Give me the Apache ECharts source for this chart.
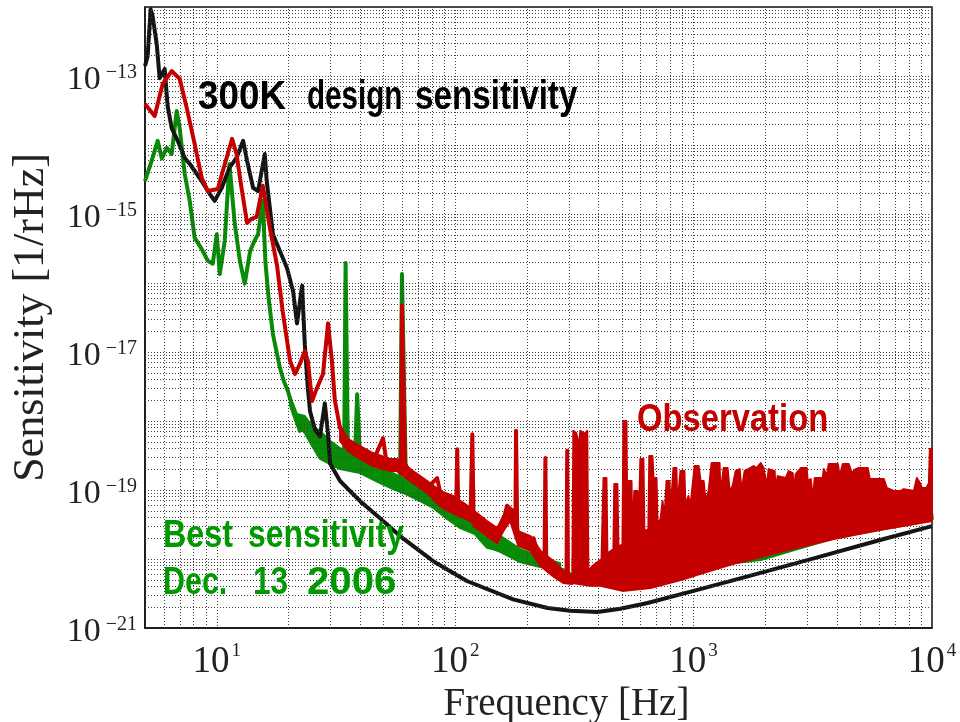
<!DOCTYPE html>
<html><head><meta charset="utf-8">
<script src="https://cdn.jsdelivr.net/npm/echarts@6/dist/echarts.min.js"></script>
<style>html,body{margin:0;padding:0;background:#fff}#c{width:960px;height:722px}</style>
</head><body><div id="c"></div>
<script>
// ---- data (frequency [Hz], sensitivity [1/rHz]) ----
const xDecades = [1, 10, 100, 1000];
const yDecades = [1e-21, 1e-20, 1e-19, 1e-18, 1e-17, 1e-16, 1e-15, 1e-14, 1e-13];
const minorMultipliers = [2, 3, 4, 5, 6, 7, 8, 9];
const yLabelExponents = [-21, -19, -17, -15, -13];

const design300K = [[5.0,1.40e-13],[5.13,1.95e-13],[5.28,9.3e-13],[5.38,7.4e-13],[5.60,2.9e-13],[5.76,9.3e-14],[6.05,1.26e-13],[6.22,3.7e-14],[6.47,1.76e-14],[6.86,1.15e-14],[7.34,6.5e-15],[7.71,5.3e-15],[8.25,3.8e-15],[8.65,3.0e-15],[9.35,1.95e-15],[9.8,1.55e-15],[10.5,2.4e-15],[11.3,4.7e-15],[12.1,6.5e-15],[12.9,1.15e-14],[13.4,5.9e-15],[14.2,2.4e-15],[14.9,2.15e-15],[15.9,7.4e-15],[16.2,3.0e-15],[17.2,5.1e-16],[18.4,2.9e-16],[19.7,1.65e-16],[20.9,7.6e-17],[21.7,2.6e-17],[22.8,9.1e-17],[23.4,1.3e-17],[24.1,3.0e-18],[24.6,1.4e-18],[25.8,7.6e-19],[27.1,6.0e-19],[28.4,1.8e-18],[29.3,6.4e-19],[29.9,2.4e-19],[32.9,1.35e-19],[39.9,6.9e-20],[48.4,3.9e-20],[58.7,2.15e-20],[80.9,9.3e-21],[112,4.8e-21],[175,2.6e-21],[244,1.95e-21],[304,1.78e-21],[395,1.7e-21],[493,1.9e-21],[641,2.3e-21],[1000,3.45e-21],[1687,5.6e-21],[3192,1.02e-20],[6110,1.9e-20],[10000,3.0e-20]];

const bestSensitivity = [[5.0,3.0e-15],[5.33,5.9e-15],[5.65,1.15e-14],[5.88,6.4e-15],[6.17,9.1e-15],[6.47,7.4e-15],[6.79,3.1e-14],[6.99,1.77e-14],[7.34,3.8e-15],[7.70,1.55e-15],[8.08,4.5e-16],[8.65,3.1e-16],[9.17,2.1e-16],[9.62,1.9e-16],[10.0,5.1e-16],[10.3,1.35e-16],[10.8,4.1e-16],[11.3,5.3e-15],[11.9,7.2e-16],[12.5,2.1e-16],[13.1,9.8e-17],[13.8,2.9e-16],[14.4,4.1e-16],[14.9,5.1e-16],[15.6,1.55e-15],[16.0,2.0e-16],[16.5,6.0e-17],[17.2,1.82e-17],[17.9,9.3e-18],[18.4,5.9e-18],[19.1,3.8e-18],[19.9,2.7e-18],[20.7,1.65e-18],[21.7,1.0e-18],[22.3,7.2e-19],[23.0,1.07e-18],[23.9,7.9e-19],[25.1,4.8e-19],[25.6,7.9e-19],[26.6,3.3e-19],[27.9,6.0e-19],[29.3,4.1e-19],[30.7,2.6e-19],[32.9,3.1e-19],[34.2,2.8e-19],[34.7,1.95e-16],[35.1,1.95e-16],[35.5,3.1e-19],[38.0,3.1e-19],[38.8,2.45e-18],[39.3,2.45e-18],[39.9,2.95e-19],[43.9,2.08e-19],[48.4,1.73e-19],[54.3,1.44e-19],[58.7,1.26e-19],[59.8,1.35e-16],[60.4,1.35e-16],[62.2,1.14e-19],[71.3,8.2e-20],[80.8,6.2e-20],[92.5,4.5e-20],[105,3.3e-20],[121,2.4e-20],[136,1.55e-20],[155,1.31e-20],[187,9.35e-21],[228,7.9e-21],[258,7.6e-21],[290,6.7e-21],[319,5.3e-21],[335,5.6e-21],[345,1.55e-20],[350,1.55e-20],[358,5.6e-21],[387,4.5e-21],[503,3.7e-21],[575,4.1e-21],[580,9.1e-20],[585,9.1e-20],[594,4.1e-21],[907,5.5e-21],[1472,9.0e-21],[1911,1.0e-20],[2556,1.35e-20],[3872,2.05e-20],[6279,2.8e-20],[9518,3.6e-20],[9600,1.1e-19],[9700,1.1e-19],[10000,3.7e-20]];
// thickness of the noisy best-sensitivity trace (upper / lower edge)
const bestNoiseTop = [[20.3,2.3e-18],[21.7,1.26e-18],[23.4,1.18e-18],[25.1,8.5e-19],[27.1,7.2e-19],[29.9,5.13e-19],[32.9,4.05e-19],[36.2,3.67e-19],[39.9,3.43e-19],[43.9,2.63e-19],[48.4,2.22e-19],[54.9,1.76e-19],[61.6,1.44e-19],[71.3,1.14e-19],[80.9,8.8e-20],[92.5,6.9e-20],[105,5.3e-20],[121,3.8e-20],[136,2.8e-20],[155,2.15e-20],[187,1.40e-20],[228,1.07e-20],[276,8.7e-21]];
const bestNoiseBottom = [[20.3,1.65e-18],[21.7,8.5e-19],[23.4,6.7e-19],[25.1,4.34e-19],[27.1,2.82e-19],[29.9,2.38e-19],[32.9,2.01e-19],[36.2,1.88e-19],[39.9,1.76e-19],[43.9,1.49e-19],[48.4,1.26e-19],[54.9,1.03e-19],[61.6,8.8e-20],[71.3,6.9e-20],[80.9,5.5e-20],[92.5,3.8e-20],[105,2.8e-20],[121,2.3e-20],[136,1.45e-20],[155,1.31e-20],[187,9.35e-21],[228,7.9e-21],[276,7.2e-21]];

const observationLow = [[5.0,3.93e-14],[5.49,2.63e-14],[5.93,7.66e-14],[6.47,1.18e-13],[6.99,9.1e-14],[7.48,3.45e-14],[8.08,1.03e-14],[8.65,3.3e-15],[9.17,2.15e-15],[10.1,2.3e-15],[10.6,4.2e-15],[11.6,1.23e-14],[12.1,7.4e-15],[12.7,2.4e-15],[13.4,7.4e-16],[14.0,8.5e-16],[14.7,9.1e-16],[15.6,2.57e-15],[16.7,6.3e-16],[17.9,1.78e-16],[18.9,3.9e-17],[20.3,7.4e-18],[21.3,4.8e-18],[22.3,6.7e-18],[23.4,1.03e-17],[24.1,7.4e-18],[25.1,1.95e-18],[26.3,3.0e-18],[27.9,4.8e-18],[29.3,2.6e-17],[30.4,7.4e-18],[31.3,1.95e-18],[32.9,7.9e-19],[35.5,4.7e-19],[39.9,3.7e-19],[45.2,2.6e-19],[49.8,5.6e-19],[51.8,2.24e-19],[57.0,2.4e-19],[59.3,2.6e-19],[59.8,4.7e-17],[60.4,4.7e-17],[61.6,2.4e-19],[66.6,1.48e-19],[76.3,1.07e-19],[84.0,1.49e-19],[88.1,6.9e-20],[95.3,5.9e-20],[101,5.5e-20],[102,3.9e-19],[103,5.0e-20],[105,4.5e-20],[116,3.9e-20],[118,6.4e-19],[119.5,3.5e-20],[121,3.0e-20],[136,2.3e-20],[150,1.82e-20],[159,3.5e-20],[165,5.9e-20],[174,5.0e-20],[179,4.0e-20],[180,7.2e-19],[182,3.0e-20],[184,1.82e-20],[207,1.45e-20],[213,2.0e-20],[228,9.3e-21],[237,9.0e-21],[239,2.9e-19],[241,8.5e-21],[246,7.9e-21],[263,5.6e-21],[284,4.8e-21],[293,5.0e-21],[295,3.7e-19],[297,5.0e-21],[304,4.8e-21],[310,4.5e-21]];
// thickness of the noisy observation trace below 310 Hz (upper / lower edge)
const observationNoiseTop = [[32.9,8.5e-19],[35.5,5.5e-19],[39.9,4.34e-19],[45.2,3.43e-19],[53.3,2.82e-19],[57.0,2.82e-19],[66.6,1.88e-19],[76.3,1.35e-19],[86.5,9.7e-20],[98.0,8.2e-20],[116,5.5e-20],[136,3.55e-20],[150,2.8e-20],[159,4.2e-20],[170,5.5e-20],[184,2.53e-20],[207,2.15e-20],[228,1.31e-20],[258,9.35e-21],[284,6.7e-21],[310,5.6e-21]];
const observationNoiseBottom = [[32.9,5.13e-19],[35.5,3.67e-19],[39.9,2.82e-19],[45.2,2.22e-19],[53.3,1.88e-19],[57.0,1.88e-19],[66.6,1.26e-19],[76.3,9.1e-20],[86.5,5.8e-20],[98.0,4.6e-20],[116,3.55e-20],[136,2.15e-20],[150,1.7e-20],[159,2.53e-20],[170,3.55e-20],[184,1.55e-20],[207,1.31e-20],[228,7.9e-21],[258,5.6e-21],[284,4.5e-21],[310,4.35e-21]];

// upper (ragged) edge of the dense observation band above 310 Hz, left to right
const observationBandTop = [[313,7.2e-19],[322,6.7e-19],[329,4.3e-19],[335,7.2e-19],[348,6.5e-19],[358,7.2e-19],[362,6.7e-21],[376,7.9e-21],[411,1.0e-20],[419,1.49e-19],[431,1.49e-19],[435,1.19e-20],[461,1.4e-20],[465,1.22e-19],[479,1.22e-19],[484,1.49e-20],[503,1.65e-20],[508,1.0e-18],[523,1.0e-18],[528,1.82e-20],[533,1.35e-19],[549,1.35e-19],[554,2.0e-20],[564,9.7e-20],[581,9.7e-20],[587,2.3e-20],[598,2.82e-19],[616,2.82e-19],[622,2.53e-20],[646,2.7e-20],[652,3.11e-19],[672,3.11e-19],[679,1.49e-19],[699,1.49e-19],[706,3.3e-20],[727,3.8e-20],[741,6.9e-20],[755,3.8e-20],[770,1.35e-19],[792,1.35e-19],[800,4.6e-20],[823,2.08e-19],[847,2.08e-19],[855,5.8e-20],[881,1.88e-19],[915,1.88e-19],[924,5.8e-20],[951,8.2e-20],[970,5.8e-20],[1010,2.22e-19],[1050,2.22e-19],[1070,1.35e-19],[1102,1.35e-19],[1123,6.9e-20],[1156,9.7e-20],[1190,2.46e-19],[1285,2.46e-19],[1298,8.2e-20],[1336,2.08e-19],[1389,2.08e-19],[1416,9.7e-20],[1458,1.14e-19],[1501,1.88e-19],[1560,2.01e-19],[1590,9.7e-20],[1637,1.88e-19],[1786,2.22e-19],[1839,2.08e-19],[1911,2.46e-19],[1967,2.08e-19],[2025,1.14e-19],[2065,2.01e-19],[2188,1.88e-19],[2209,9.7e-20],[2252,1.59e-19],[2434,1.49e-19],[2505,1.88e-19],[2605,1.76e-19],[2630,9.7e-20],[2681,1.7e-19],[2815,2.08e-19],[2982,2.08e-19],[3011,1.35e-19],[3101,1.44e-19],[3161,7.4e-20],[3222,1.49e-19],[3481,1.49e-19],[3515,2.01e-19],[3619,1.59e-19],[3689,2.38e-19],[4025,2.38e-19],[4103,1.59e-19],[4224,2.38e-19],[4476,2.38e-19],[4608,1.76e-19],[4790,2.01e-19],[4931,2.08e-19],[5379,2.08e-19],[5483,1.44e-19],[6279,1.44e-19],[6464,1.07e-19],[6917,9.7e-20],[7401,9.7e-20],[7619,1.03e-19],[8393,9.7e-20],[8640,1.49e-19],[8894,1.26e-19],[9068,1.07e-19],[9518,1.07e-19],[9702,1.26e-19],[9795,3.93e-19],[10000,3.93e-19]];
// lower edge of the dense observation band, left to right
const observationBandBottom = [[310,4.5e-21],[369,4.1e-21],[406,4.1e-21],[503,3.45e-21],[659,3.8e-21],[907,5.1e-21],[1070,6.1e-21],[1472,8.5e-21],[1912,1.07e-20],[2388,1.31e-20],[3041,1.6e-20],[3873,1.95e-20],[4934,2.3e-20],[6283,2.7e-20],[8000,3.1e-20],[10000,3.55e-20]];

// ECharts rounds axis extents to 20 decimals, so the y axis is plotted in units of 1e-21 /rHz
const Y_UNIT_EXP = -21;
const toPlot = arr => arr.map(p => [p[0], p[1] * Math.pow(10, -Y_UNIT_EXP)]);

// ---- styles ----
const RED = '#c40000', GREEN = '#088c08', BLACK = '#141414', TEXT_GREEN = '#009a00';
const gridStyle = { color: '#404040', width: 1, type: [1, 2] };

const minorX = [];
xDecades.forEach(d => minorMultipliers.forEach(m => { const v = m * d; if (v > 5 && v < 10000) minorX.push(v); }));
const minorY = [];
yDecades.forEach(d => minorMultipliers.forEach(m => minorY.push(m * d * Math.pow(10, -Y_UNIT_EXP))));

function powerOfTen(v) {
  const l = Math.log10(v), e = Math.round(l);
  return Math.abs(l - e) < 1e-6 ? e : null;
}
const richX = {
  b: { fontFamily: 'Liberation Serif', fontSize: 37, lineHeight: 40, color: '#222' },
  s: { fontFamily: 'Liberation Serif', fontSize: 19, lineHeight: 21, verticalAlign: 'top', color: '#222', padding: [0, 0, 0, 2] }
};
const richY = {
  b: { fontFamily: 'Liberation Serif', fontSize: 34, lineHeight: 36, color: '#222' },
  s: { fontFamily: 'Liberation Serif', fontSize: 20, lineHeight: 21, verticalAlign: 'top', color: '#222', padding: [0, 0, 0, 5] }
};
const sup = e => String(e).replace('-', '\u2212');

function bandSeries(name, top, bottom, color, z) {
  const t = toPlot(top), b = toPlot(bottom);
  return {
    name: name, type: 'custom', coordinateSystem: 'cartesian2d', z: z, silent: true,
    data: [b[0]],
    renderItem: function (params, api) {
      const pts = [];
      t.forEach(p => pts.push(api.coord(p)));
      for (let i = b.length - 1; i >= 0; i--) pts.push(api.coord(b[i]));
      return { type: 'polygon', shape: { points: pts }, style: { fill: color, stroke: color, lineWidth: 2, lineJoin: 'round' } };
    }
  };
}

const chart = echarts.init(document.getElementById('c'), null, { renderer: 'canvas' });
const txt = (text, x, y, sx, size, color) => ({
  type: 'text', x: x, y: y, scaleX: sx, z: 100,
  style: { text: text, font: 'bold ' + size + 'px "Liberation Sans", Arial, sans-serif', fill: color,
    textAlign: 'left', align: 'left', textVerticalAlign: 'middle', verticalAlign: 'middle' }
});

chart.setOption({
  animation: false,
  backgroundColor: '#fff',
  grid: { left: 145, right: 28, top: 7, bottom: 94, show: true, borderColor: '#111', borderWidth: 1.5,
    containLabel: false, outerBoundsMode: 'none' },
  xAxis: {
    type: 'log', logBase: 10, min: 5, max: 10000, splitNumber: 5,
    axisLine: { show: true, onZero: false, lineStyle: { color: '#111', width: 1.5 } },
    axisTick: { show: false },
    splitLine: { show: true, lineStyle: gridStyle },
    axisLabel: {
      margin: 14, rich: richX,
      formatter: v => { const e = powerOfTen(v); return e === null ? '' : '{b|10}{s|' + sup(e) + '}'; }
    },
    name: 'Frequency [Hz]', nameLocation: 'middle', nameGap: 50,
    nameTextStyle: { fontFamily: 'Liberation Serif', fontSize: 39, color: '#222', padding: [0, 0, 0, 56] }
  },
  yAxis: {
    type: 'log', logBase: 10, min: 1, max: 1e9, splitNumber: 10,
    axisLine: { show: true, onZero: false, lineStyle: { color: '#111', width: 1.5 } },
    axisTick: { show: false },
    splitLine: { show: true, lineStyle: gridStyle },
    axisLabel: {
      margin: 8, rich: richY, padding: [9, 0, 0, 0],
      formatter: v => {
        const p = powerOfTen(v); if (p === null) return '';
        const e = p + Y_UNIT_EXP;
        return yLabelExponents.indexOf(e) < 0 ? '' : '{b|10}{s|' + sup(e) + '}';
      }
    },
    name: 'Sensitivity [1/rHz]', nameLocation: 'middle', nameGap: 92,
    nameTextStyle: { fontFamily: 'Liberation Serif', fontSize: 44, color: '#222' }
  },
  series: [
    {
      name: 'grid', type: 'line', data: [[5, 1]], symbol: 'none', silent: true, z: 1,
      lineStyle: { width: 0 },
      markLine: {
        silent: true, symbol: ['none', 'none'], label: { show: false }, animation: false,
        lineStyle: gridStyle, emphasis: { disabled: true },
        data: minorX.map(v => ({ xAxis: v })).concat(minorY.map(v => ({ yAxis: v })))
      }
    },
    bandSeries('Best sensitivity noise', bestNoiseTop, bestNoiseBottom, GREEN, 3),
    { name: 'Best sensitivity', type: 'line', data: toPlot(bestSensitivity), showSymbol: false, symbol: 'none', z: 3,
      lineStyle: { color: GREEN, width: 4, join: 'round' } },
    { name: '300K design', type: 'line', data: toPlot(design300K), showSymbol: false, symbol: 'none', z: 4,
      lineStyle: { color: BLACK, width: 4, join: 'round' } },
    bandSeries('Observation noise', observationNoiseTop, observationNoiseBottom, RED, 5),
    { name: 'Observation', type: 'line', data: toPlot(observationLow), showSymbol: false, symbol: 'none', z: 5,
      lineStyle: { color: RED, width: 4, join: 'round' } },
    bandSeries('Observation band', observationBandTop, observationBandBottom, RED, 5)
  ],
  graphic: [
    txt('300K', 198, 98, 0.92, 40, '#000'),
    txt('design', 307, 98, 0.74, 40, '#000'),
    txt('sensitivity', 415, 98, 0.83, 40, '#000'),
    txt('Observation', 637, 420, 0.84, 39, RED),
    txt('Best', 163, 537, 0.85, 38, TEXT_GREEN),
    txt('sensitivity', 248, 537, 0.84, 38, TEXT_GREEN),
    txt('Dec.', 163, 583, 0.78, 39, TEXT_GREEN),
    txt('13', 253, 583, 0.81, 39, TEXT_GREEN),
    txt('2006', 307, 583, 1.03, 39, TEXT_GREEN)
  ]
});
</script>
</body></html>
